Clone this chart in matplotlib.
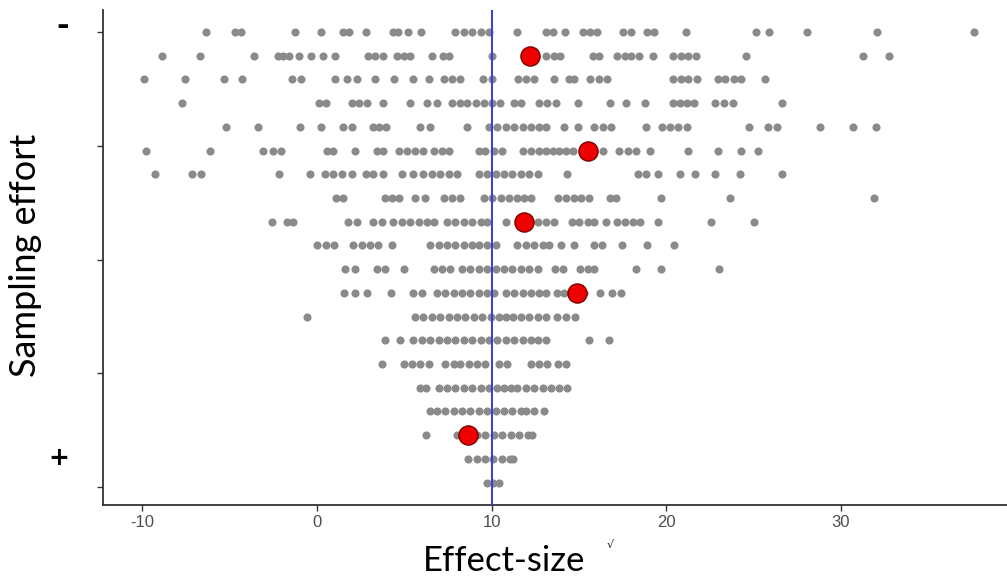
import numpy as np
import matplotlib.pyplot as plt

# effect sizes per row, top row (least sampling) first
rows = [
    [-6.36, -4.69, -4.34, -1.28, 0.26, 1.50, 1.85, 2.81, 4.34, 4.67, 5.24, 5.97,
     7.93, 8.41, 8.89, 9.37, 9.85, 11.48, 13.11, 13.49, 14.22, 15.22, 15.64, 16.04,
     17.52, 17.96, 18.92, 19.30, 21.12, 25.13, 25.90, 28.03, 32.04, 37.60],
    [-8.85, -6.69, -3.62, -2.24, -1.91, -1.57, -1.03, -0.32, 0.35, 1.02, 2.94, 3.33,
     3.77, 4.57, 4.96, 5.34, 6.59, 7.22, 7.54, 10.04, 13.10, 13.55, 13.93, 15.78,
     16.14, 17.19, 17.61, 18.00, 18.42, 19.25, 20.40, 20.84, 21.26, 21.70, 24.58,
     31.23, 32.77],
    [-9.91, -7.55, -5.30, -4.29, -1.41, -0.89, 1.02, 1.75, 2.27, 3.33, 4.42, 5.53,
     6.39, 7.26, 7.74, 8.22, 9.52, 10.04, 11.53, 11.96, 12.43, 13.55, 14.41, 14.74,
     15.66, 16.14, 16.62, 20.36, 20.84, 21.26, 21.74, 22.95, 23.37, 23.85, 24.29,
     25.67],
    [-7.74, 0.12, 0.55, 1.99, 2.42, 2.88, 3.77, 5.34, 6.30, 6.88, 7.74, 8.18, 8.60,
     9.08, 9.56, 10.04, 10.48, 11.28, 11.67, 12.72, 13.20, 13.68, 14.93, 16.75,
     17.71, 18.77, 20.40, 20.78, 21.16, 21.58, 22.76, 23.33, 23.81, 26.63],
    [-5.21, -3.39, -0.95, 0.26, 1.47, 1.99, 3.19, 3.57, 3.96, 5.91, 6.49, 8.60,
     9.85, 10.33, 10.81, 11.28, 11.77, 12.24, 12.72, 13.10, 14.16, 14.93, 15.85,
     16.37, 16.85, 18.86, 19.78, 20.20, 20.68, 21.16, 24.75, 25.82, 26.34, 28.80,
     30.71, 32.00],
    [-9.77, -6.11, -3.06, -2.49, -2.05, 0.58, 0.93, 2.21, 3.46, 3.80, 4.72, 5.15,
     5.63, 6.10, 6.68, 7.16, 7.54, 9.27, 9.65, 10.13, 10.62, 11.82, 12.24, 12.72,
     13.10, 13.49, 13.87, 14.26, 14.64, 16.37, 17.27, 17.81, 18.29, 19.05, 21.26,
     22.95, 24.27, 25.23],
    [-9.25, -7.13, -6.65, -2.14, -0.41, 0.45, 0.93, 1.41, 1.99, 2.81, 3.23, 3.80,
     4.86, 5.53, 6.10, 6.59, 7.07, 7.54, 8.03, 9.27, 9.75, 10.23, 10.71, 11.19,
     11.67, 12.15, 12.63, 14.30, 18.39, 18.86, 19.53, 20.78, 21.64, 22.80, 24.24,
     26.63],
    [1.08, 1.50, 3.90, 4.29, 4.72, 5.63, 6.20, 7.26, 7.74, 8.22, 9.56, 10.04, 10.52,
     11.00, 11.48, 11.86, 12.24, 13.78, 14.26, 14.74, 15.12, 15.60, 16.75, 17.13,
     19.72, 23.62, 31.91],
    [-2.57, -1.72, -1.34, 1.79, 2.27, 3.19, 3.71, 4.38, 4.86, 5.34, 5.82, 6.30,
     6.68, 7.45, 7.93, 8.41, 8.89, 9.37, 9.75, 10.81, 12.63, 13.10, 13.55, 14.59,
     15.02, 15.51, 15.89, 16.56, 17.19, 17.61, 18.10, 18.48, 19.53, 22.54, 25.00],
    [0.00, 0.50, 1.00, 2.08, 2.56, 3.04, 3.52, 4.29, 6.49, 6.97, 7.45, 7.93, 8.41,
     8.89, 9.27, 9.75, 10.23, 11.48, 11.96, 12.43, 12.92, 13.30, 13.97, 14.70,
     15.85, 16.33, 17.46, 18.92, 20.46],
    [1.60, 2.18, 3.42, 3.90, 4.96, 6.72, 7.16, 7.60, 8.31, 8.79, 9.27, 9.75, 10.23,
     10.71, 11.19, 11.67, 12.15, 12.63, 13.62, 14.07, 15.08, 15.51, 15.89, 18.29,
     19.72, 23.02],
    [1.56, 2.18, 2.85, 4.23, 5.53, 6.01, 6.88, 7.35, 7.83, 8.31, 8.79, 9.27, 9.75,
     10.13, 10.81, 11.28, 11.77, 12.24, 12.72, 13.10, 13.74, 14.13, 15.31, 16.18,
     16.90, 17.38],
    [-0.55, 5.63, 6.10, 6.59, 7.07, 7.54, 8.03, 8.50, 8.98, 9.46, 9.94, 10.42,
     10.81, 11.25, 11.67, 12.15, 12.63, 13.10, 13.74, 14.26, 14.79],
    [3.90, 4.76, 5.53, 6.01, 6.49, 6.97, 7.45, 7.93, 8.41, 8.89, 9.37, 9.85, 10.33,
     10.81, 11.28, 11.82, 12.24, 12.63, 13.10, 15.56, 16.71],
    [3.71, 4.96, 5.44, 5.91, 6.39, 7.35, 7.83, 8.22, 8.70, 9.18, 9.65, 10.42, 10.90,
     12.24, 12.72, 13.20, 13.78, 14.26],
    [5.91, 6.26, 6.97, 7.45, 7.93, 8.41, 8.89, 9.37, 9.85, 10.33, 10.71, 11.09,
     11.48, 11.96, 12.43, 12.92, 13.39, 13.87, 14.32],
    [6.45, 6.88, 7.35, 7.83, 8.31, 8.79, 9.27, 9.75, 10.23, 10.71, 11.19, 11.67,
     11.96, 12.43, 13.01],
    [6.26, 8.03, 9.18, 9.65, 10.13, 10.62, 11.10, 11.58, 12.06, 12.34],
    [8.66, 9.14, 9.62, 10.10, 10.58, 11.06, 11.25],
    [9.75, 10.10, 10.40],
]

# highlighted studies: (row index, effect size)
red_rows = [1, 5, 8, 11, 17]
red_x = [12.20, 15.50, 11.86, 14.87, 8.66]

true_effect = 10
xticks = [-10, 0, 10, 20, 30]
yticks = [0, 4.8, 9.6, 14.4, 19.2]

xs, ys = [], []
for i, r in enumerate(rows):
    xs.extend(r)
    ys.extend([i] * len(r))

fig = plt.figure(figsize=(10.07, 5.83), dpi=100)
ax = fig.add_axes([0.1023, 0.134, 0.8977, 0.849])

ax.scatter(xs, ys, s=34, color='#8a8a8a', linewidths=0, zorder=2)
ax.axvline(true_effect, color='#3a3ae0', lw=1.4, zorder=3)
ax.scatter(red_x, red_rows, s=190, color='#ee0000', edgecolors='#7a0000',
           linewidths=1.0, zorder=4)

ax.set_xlim(-12.24, 39.5)
ax.set_ylim(19.94, -0.93)
ax.set_xticks(xticks)
ax.set_xticklabels([str(t) for t in xticks], family='Liberation Sans')
ax.set_yticks(yticks)
ax.set_yticklabels([])
ax.tick_params(axis='x', colors='#333333', labelcolor='#4d4d4d', labelsize=12,
               length=4, width=1)
ax.tick_params(axis='y', colors='#333333', length=4, width=1)

for s in ['top', 'right']:
    ax.spines[s].set_visible(False)
for s in ['left', 'bottom']:
    ax.spines[s].set_color('#333333')
    ax.spines[s].set_linewidth(1.3)

fig.text(0.5005, 0.037, 'Effect-size', ha='center', va='center',
         fontsize=25, family='Lato')
fig.text(0.025, 0.562, 'Sampling effort', ha='center', va='center',
         rotation=90, fontsize=26, family='Lato')
fig.text(0.062, 0.955, '-', ha='center', va='center', fontsize=22,
         fontweight='bold')
fig.text(0.058, 0.215, '+', ha='center', va='center', fontsize=18,
         fontweight='bold')
fig.text(0.606, 0.065, '\u221a', ha='center', va='center', fontsize=8,
         color='#222222')

fig.savefig('out.png', dpi=100)
